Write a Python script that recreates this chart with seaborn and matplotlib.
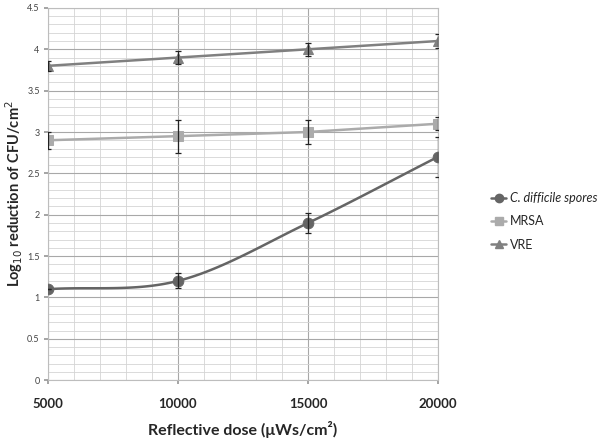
import numpy as np
import pandas as pd
import matplotlib
matplotlib.use("Agg")
import matplotlib.pyplot as plt
import seaborn as sns
from matplotlib.lines import Line2D
from matplotlib.ticker import MultipleLocator

dose = [5000, 10000, 15000, 20000]
cdiff = [1.1, 1.2, 1.9, 2.7]
cdiff_err = [0.0, 0.09, 0.12, 0.24]
mrsa = [2.9, 2.95, 3.0, 3.1]
mrsa_err = [0.1, 0.2, 0.15, 0.08]
vre = [3.8, 3.9, 4.0, 4.1]
vre_err = [0.06, 0.08, 0.08, 0.08]
series_names = ["C. difficile spores", "MRSA", "VRE"]

sns.set_theme(style="white")
plt.rcParams['font.family'] = ['Lato', 'DejaVu Sans']

fig = plt.figure(figsize=(6, 4.4), dpi=100)
ax = fig.add_axes([0.08, 0.136, 0.65, 0.846])

# smooth curve for C. difficile (Catmull-Rom style like Excel smoothing)
def smooth(xs, ys, n=40):
    xs = np.asarray(xs, float); ys = np.asarray(ys, float)
    P = np.column_stack([xs, ys])
    P = np.vstack([P[0] - (P[1] - P[0]), P, P[-1] + (P[-1] - P[-2])])
    out = []
    for i in range(1, len(P) - 2):
        p0, p1, p2, p3 = P[i-1], P[i], P[i+1], P[i+2]
        t = np.linspace(0, 1, n)[:, None]
        b1 = p1 + (p2 - p0) / 6
        b2 = p2 - (p3 - p1) / 6
        c = (1-t)**3*p1 + 3*(1-t)**2*t*b1 + 3*(1-t)*t**2*b2 + t**3*p2
        out.append(c)
    c = np.vstack(out)
    return c[:, 0], c[:, 1]

sx, sy = smooth(dose, cdiff)
df_s = pd.DataFrame({"x": sx, "y": sy})

c_cd, c_mr, c_vr = "#656565", "#ababab", "#808080"

sns.lineplot(data=df_s, x="x", y="y", ax=ax, color=c_cd, lw=1.8, sort=False, zorder=3)
sns.scatterplot(x=dose, y=cdiff, ax=ax, color=c_cd, marker="o", s=60, edgecolor=c_cd, zorder=4)

sns.lineplot(x=dose, y=mrsa, ax=ax, color=c_mr, lw=1.8, marker="s", markersize=7,
             markeredgecolor=c_mr, zorder=3)
sns.lineplot(x=dose, y=vre, ax=ax, color=c_vr, lw=1.8, marker="^", markersize=7,
             markeredgecolor=c_vr, zorder=3)

for y, e in [(cdiff, cdiff_err), (mrsa, mrsa_err), (vre, vre_err)]:
    ax.errorbar(dose, y, yerr=e, fmt="none", ecolor="#222222", elinewidth=0.9,
                capsize=2.5, capthick=0.9, zorder=5)

ax.set_xlim(5000, 20000)
ax.set_ylim(0, 4.5)
ax.xaxis.set_major_locator(MultipleLocator(5000))
ax.xaxis.set_minor_locator(MultipleLocator(1000))
ax.yaxis.set_major_locator(MultipleLocator(0.5))
ax.yaxis.set_minor_locator(MultipleLocator(0.1))
ax.grid(which="major", color="#a8a8a8", lw=0.8)
ax.grid(which="minor", color="#d4d4d4", lw=0.6)
ax.set_axisbelow(True)
for s in ax.spines.values():
    s.set_color("#bdbdbd"); s.set_linewidth(0.8)

ax.set_yticks(np.arange(0, 4.51, 0.5))
ax.set_yticklabels(["0", "0.5", "1", "1.5", "2", "2.5", "3", "3.5", "4", "4.5"])
ax.tick_params(axis="y", labelsize=6.5, labelcolor="#444444", length=3, color="#999999", left=True, pad=3)
ax.tick_params(axis="x", labelsize=9.5, length=3, color="#999999", bottom=True, pad=10)
for lab in ax.get_xticklabels():
    lab.set_fontweight("bold")

ax.set_xlabel("Reflective dose (\u03bcWs/cm\u00b2)", fontsize=11.5, fontweight="bold", labelpad=8)
ax.set_ylabel("Log$_{10}$ reduction of CFU/cm$^2$", fontsize=10.5, fontweight="bold")
ax.yaxis.set_label_coords(-0.058, 0.5)

handles = [
    Line2D([], [], color=c_cd, lw=1.8, marker="o", markersize=6),
    Line2D([], [], color=c_mr, lw=1.8, marker="s", markersize=6),
    Line2D([], [], color=c_vr, lw=1.8, marker="^", markersize=6),
]
leg = fig.legend(handles, series_names, loc="upper left", bbox_to_anchor=(0.81, 0.575),
                 frameon=False, fontsize=9, handlelength=1.2, handletextpad=0.3,
                 labelspacing=0.9, borderaxespad=0)
leg.get_texts()[0].set_fontstyle("italic")

fig.savefig("out.png", dpi=100)
